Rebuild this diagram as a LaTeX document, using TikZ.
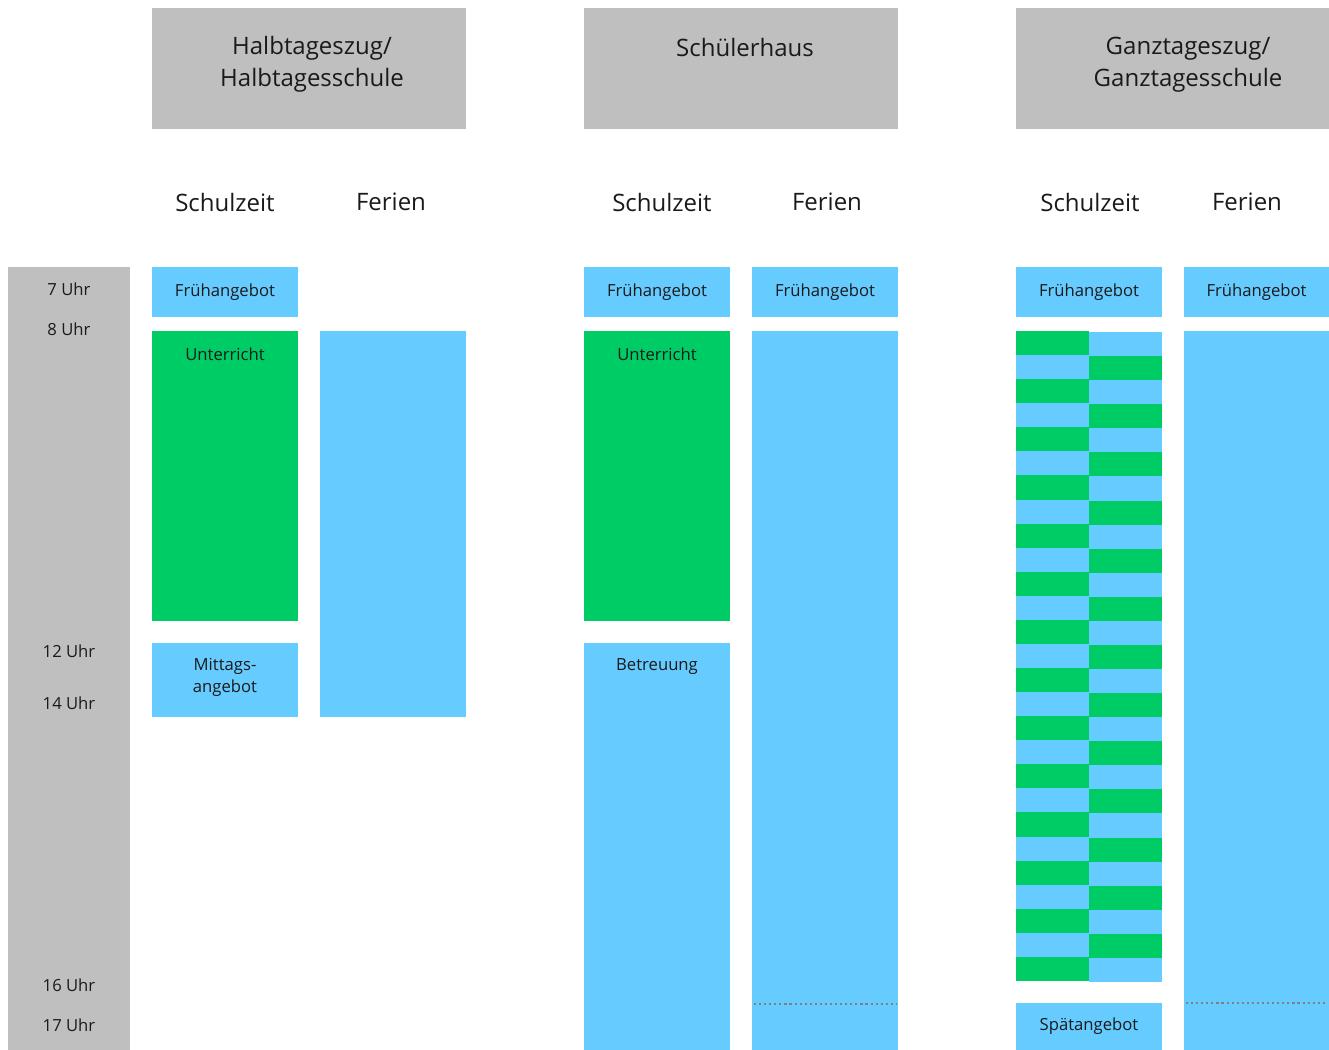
\documentclass[tikz,border=0pt]{standalone}
\usepackage{fontspec}
\setmainfont{Open Sans}
\definecolor{cblue}{HTML}{66CBFF}
\definecolor{cgreen}{HTML}{00CC66}
\definecolor{cgray}{HTML}{BFBFBF}
\definecolor{ctext}{HTML}{1A1A1A}
\definecolor{cdot}{HTML}{808080}
\newcommand\blk[7]{%
  \node[blkbox, fill=#6, minimum width={(#4-#2)*0.75pt}, minimum height={(#5-#3)*0.75pt}] (#1) at (#2,#3) {#7};}
\begin{document}
\begin{tikzpicture}[x=0.75pt,y=-0.75pt,
  blkbox/.style={anchor=north west, inner sep=0pt, outer sep=0pt, draw=none, text=ctext,
    font=\fontsize{12.5pt}{16.5pt}\selectfont, align=center},
  smalltxt/.style={text=ctext, font=\fontsize{12.5pt}{16.5pt}\selectfont, align=center, inner sep=0pt},
  bigtxt/.style={text=ctext, font=\fontsize{18pt}{24pt}\selectfont, align=center, inner sep=0pt},
  dotline/.style={draw=cdot, line width=1.6pt, dash pattern=on 1.6pt off 2.2pt}]
\useasboundingbox (0,0) rectangle (1329,1050);
% time bar
\blk{timebar}{8}{267}{130}{1050}{cgray}{}
\node[smalltxt] (t7) at (69,289) {7 Uhr};
\node[smalltxt] (t8) at (69,329) {8 Uhr};
\node[smalltxt] (t12) at (69,651) {12 Uhr};
\node[smalltxt] (t14) at (69,703) {14 Uhr};
\node[smalltxt] (t16) at (69,985) {16 Uhr};
\node[smalltxt] (t17) at (69,1025) {17 Uhr};
% headers
\blk{h1}{152}{8}{466}{129}{cgray}{}
\blk{h2}{584}{8}{898}{129}{cgray}{}
\blk{h3}{1016}{8}{1329}{129}{cgray}{}
\node[bigtxt] (h1t) at (312,64.5) {Halbtageszug/\\Halbtagesschule};
\node[bigtxt] (h2t) at (745,47) {Schülerhaus};
\node[bigtxt] (h3t) at (1188,64.5) {Ganztageszug/\\Ganztagesschule};
\node[bigtxt] (s1) at (225,202) {Schulzeit};
\node[bigtxt] (f1) at (391,202) {Ferien};
\node[bigtxt] (s2) at (662,202) {Schulzeit};
\node[bigtxt] (f2) at (827,202) {Ferien};
\node[bigtxt] (s3) at (1090,202) {Schulzeit};
\node[bigtxt] (f3) at (1247,202) {Ferien};
% column 1
\blk{fa1}{152}{267}{298}{317}{cblue}{Frühangebot}
\blk{u1}{152}{331}{298}{621}{cgreen}{}
\node[smalltxt] (u1t) at (225,354) {Unterricht};
\blk{m1}{152}{643}{298}{717}{cblue}{}
\node[smalltxt] (m1t) at (225,677) {Mittags-\\angebot};
\blk{fe1}{320}{331}{466}{717}{cblue}{}
% column 2
\blk{fa2}{584}{267}{730}{317}{cblue}{Frühangebot}
\blk{fb2}{752}{267}{898}{317}{cblue}{Frühangebot}
\blk{u2}{584}{331}{730}{621}{cgreen}{}
\node[smalltxt] (u2t) at (657,354) {Unterricht};
\blk{b2}{584}{643}{730}{1050}{cblue}{}
\node[smalltxt] (b2t) at (657,666.5) {Betreuung};
\blk{fe2}{752}{331}{898}{1050}{cblue}{}
\coordinate (d2a) at (754,1004);
\coordinate (d2b) at (896,1004);
\draw[dotline] (d2a) -- (d2b);
% column 3
\blk{fa3}{1016}{267}{1162}{317}{cblue}{Frühangebot}
\blk{fb3}{1184}{267}{1329}{317}{cblue}{Frühangebot}
\foreach \i in {0,...,26}{
  \pgfmathsetmacro\ya{331+\i*24.074}
  \pgfmathsetmacro\yb{331+(\i+1)*24.074}
  \pgfmathtruncatemacro\ev{mod(\i,2)}
  \ifnum\ev=0
    \fill[cgreen] (1016,\ya) rectangle (1089,\yb);
    \fill[cblue] (1089,\ya+1) rectangle (1162,\yb+1);
  \else
    \fill[cblue] (1016,\ya) rectangle (1089,\yb);
    \fill[cgreen] (1089,\ya+1) rectangle (1162,\yb+1);
  \fi
}
\blk{sp3}{1016}{1003}{1162}{1050}{cblue}{Spätangebot}
\blk{fe3}{1184}{331}{1329}{1050}{cblue}{}
\coordinate (d3a) at (1186,1003);
\coordinate (d3b) at (1327,1003);
\draw[dotline] (d3a) -- (d3b);
\end{tikzpicture}
\end{document}
